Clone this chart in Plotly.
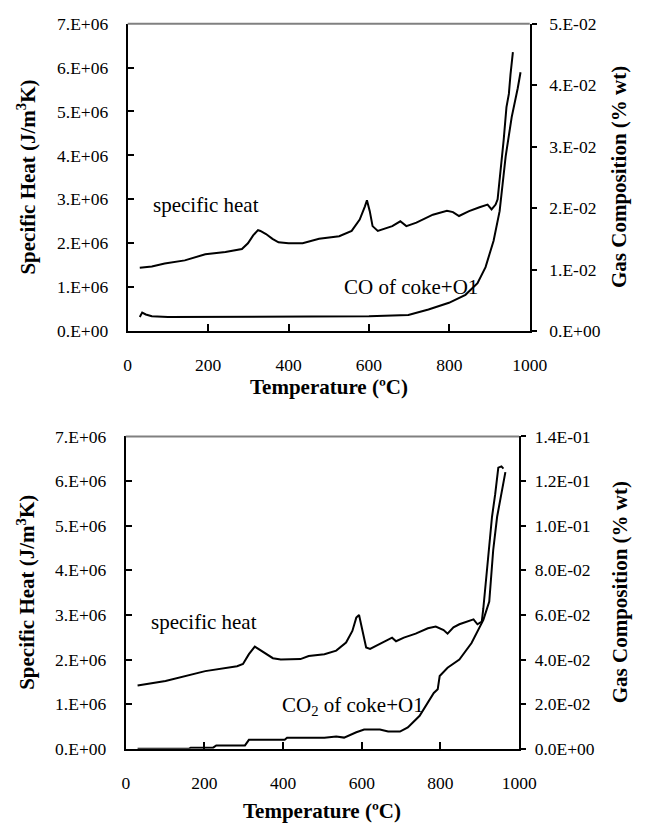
import plotly.graph_objects as go

# ---------------- data ----------------
# Top chart: specific heat (J/m3K) and CO (%wt)
t_cp_top = [30, 60, 92, 142, 193, 243, 284, 299, 312, 324, 330, 344, 360, 375, 400, 435, 476, 526,
            557, 577, 590, 595, 602, 609, 622, 658, 678, 693, 718, 759, 794, 809, 824, 849, 875,
            895, 905, 915, 920, 928, 935, 942, 948, 952, 958]
cp_top = [1.44e6, 1.47e6, 1.54e6, 1.61e6, 1.75e6, 1.80e6, 1.87e6, 2.00e6, 2.18e6, 2.30e6, 2.28e6,
          2.21e6, 2.10e6, 2.02e6, 2.00e6, 2.00e6, 2.10e6, 2.16e6, 2.28e6, 2.54e6, 2.84e6, 2.98e6,
          2.73e6, 2.39e6, 2.28e6, 2.39e6, 2.50e6, 2.39e6, 2.47e6, 2.65e6, 2.74e6, 2.71e6, 2.62e6,
          2.73e6, 2.82e6, 2.88e6, 2.77e6, 2.88e6, 3.00e6, 3.68e6, 4.35e6, 5.10e6, 5.40e6, 5.84e6, 6.35e6]

t_co = [30, 36, 45, 60, 100, 200, 300, 400, 500, 600, 698, 748, 799, 840, 870, 890, 910, 925,
        940, 955, 970, 977]
co = [0.0023, 0.0030, 0.0027, 0.0024, 0.0023, 0.0023, 0.0024, 0.0024, 0.0023, 0.0024, 0.0026,
      0.0035, 0.0046, 0.0059, 0.0078, 0.0104, 0.0147, 0.0195, 0.0284, 0.0348, 0.0395, 0.0421]

# Bottom chart: specific heat (J/m3K) and CO2 (%wt)
t_cp_bot = [30, 101, 202, 283, 298, 313, 328, 343, 374, 394, 444, 465, 505, 535, 560, 576, 586,
            593, 601, 611, 621, 646, 677, 687, 707, 737, 768, 788, 808, 818, 833, 848, 884, 894,
            905, 909, 919, 924, 931, 939, 944, 947, 955, 960]
cp_bot = [1.42e6, 1.52e6, 1.74e6, 1.85e6, 1.90e6, 2.12e6, 2.29e6, 2.20e6, 2.03e6, 2.00e6, 2.01e6,
          2.08e6, 2.12e6, 2.20e6, 2.38e6, 2.64e6, 2.94e6, 3.00e6, 2.64e6, 2.27e6, 2.24e6, 2.35e6,
          2.49e6, 2.41e6, 2.49e6, 2.58e6, 2.70e6, 2.74e6, 2.66e6, 2.58e6, 2.72e6, 2.79e6, 2.90e6,
          2.79e6, 2.85e6, 3.15e6, 4.10e6, 4.50e6, 5.20e6, 5.70e6, 6.10e6, 6.30e6, 6.33e6, 6.28e6]

t_co2 = [30, 160, 165, 222, 230, 303, 313, 404, 410, 505, 535, 555, 586, 606, 646, 667, 697, 717,
         747, 783, 793, 798, 818, 848, 879, 909, 924, 934, 944, 955, 965]
co2 = [0.0, 0.0, 0.0005, 0.0005, 0.0015, 0.0015, 0.0040, 0.0040, 0.0049, 0.0049, 0.0055, 0.0050,
       0.0074, 0.0086, 0.0086, 0.0077, 0.0077, 0.0096, 0.0148, 0.0250, 0.0267, 0.0326, 0.0363,
       0.0400, 0.0474, 0.0578, 0.0660, 0.0890, 0.1040, 0.1150, 0.1240]

x_ticks = [0, 200, 400, 600, 800, 1000]
left_ticks = [0, 1e6, 2e6, 3e6, 4e6, 5e6, 6e6, 7e6]
left_labels = ["0.E+00", "1.E+06", "2.E+06", "3.E+06", "4.E+06", "5.E+06", "6.E+06", "7.E+06"]
right_top_ticks = [0, 0.01, 0.02, 0.03, 0.04, 0.05]
right_top_labels = ["0.E+00", "1.E-02", "2.E-02", "3.E-02", "4.E-02", "5.E-02"]
right_bot_ticks = [0, 0.02, 0.04, 0.06, 0.08, 0.10, 0.12, 0.14]
right_bot_labels = ["0.0E+00", "2.0E-02", "4.0E-02", "6.0E-02", "8.0E-02", "1.0E-01", "1.2E-01", "1.4E-01"]

# ---------------- layout geometry ----------------
W, H = 657, 830
FONT = "Liberation Serif, Times New Roman, serif"
FS = 21      # text boxes and axis titles
TFS = 17.5   # tick labels


def px_x(p):
    return p / W


def px_y(p):
    return 1 - p / H


top_x = [px_x(128), px_x(544)]
top_y = [px_y(329), px_y(14)]
bot_x = [px_x(126), px_x(533)]
bot_y = [px_y(757), px_y(437)]

line = dict(color="black", width=2)

fig = go.Figure()
fig.add_trace(go.Scatter(x=t_cp_top, y=cp_top, mode="lines", line=line, xaxis="x", yaxis="y"))
fig.add_trace(go.Scatter(x=t_co, y=co, mode="lines", line=line, xaxis="x", yaxis="y2"))
fig.add_trace(go.Scatter(x=t_cp_bot, y=cp_bot, mode="lines", line=line, xaxis="x2", yaxis="y3"))
fig.add_trace(go.Scatter(x=t_co2, y=co2, mode="lines", line=line, xaxis="x2", yaxis="y4"))

tickfont = dict(family=FONT, size=TFS, color="black")
xcommon = dict(range=[0, 1000], tickvals=x_ticks, ticks="inside", ticklen=7, tickwidth=1.5,
               tickcolor="black", showline=True, linecolor="black", linewidth=2,
               showgrid=False, zeroline=False, tickfont=tickfont, ticklabelstandoff=17)
lcommon = dict(range=[0, 7e6], tickvals=left_ticks, ticktext=left_labels, ticks="inside",
               ticklen=6, tickwidth=1.5, tickcolor="black", showline=True, linecolor="black",
               linewidth=2, showgrid=False, zeroline=False, tickfont=tickfont, ticklabelstandoff=14)
rcommon = dict(side="right", ticks="outside", ticklen=5, tickwidth=1.5, tickcolor="black",
               showline=True, linecolor="black", linewidth=2, showgrid=False, zeroline=False,
               tickfont=tickfont)

fig.update_layout(
    width=W, height=H, margin=dict(l=0, r=0, t=0, b=0),
    paper_bgcolor="white", plot_bgcolor="white", showlegend=False,
    xaxis=dict(domain=top_x, anchor="y", **xcommon),
    yaxis=dict(domain=top_y, anchor="x", **lcommon),
    yaxis2=dict(overlaying="y", anchor="x", range=[0, 0.05], tickvals=right_top_ticks,
                ticktext=right_top_labels, ticklabelstandoff=9, **rcommon),
    xaxis2=dict(domain=bot_x, anchor="y3", **xcommon),
    yaxis3=dict(domain=bot_y, anchor="x2", **lcommon),
    yaxis4=dict(overlaying="y3", anchor="x2", range=[0, 0.14], tickvals=right_bot_ticks,
                ticktext=right_bot_labels, ticklabelstandoff=5, **rcommon),
)

# grey top border of each plot area
for xd, yd in [(top_x, top_y), (bot_x, bot_y)]:
    fig.add_shape(type="line", xref="paper", yref="paper", x0=xd[0], x1=xd[1], y0=yd[1], y1=yd[1],
                  line=dict(color="#808080", width=2))

textfont = dict(family=FONT, size=FS, color="black")
boldfont = dict(family=FONT, size=FS, color="black", weight="bold")

ann = []
# in-plot labels
ann.append(dict(x=58, y=2.87e6, xref="x", yref="y", text="specific heat", showarrow=False,
                xanchor="left", yanchor="middle", font=textfont))
ann.append(dict(x=534, y=1.0e6, xref="x", yref="y", text="CO of coke+O1", showarrow=False,
                xanchor="left", yanchor="middle", font=textfont))
ann.append(dict(x=59, y=2.84e6, xref="x2", yref="y3", text="specific heat", showarrow=False,
                xanchor="left", yanchor="middle", font=textfont))
ann.append(dict(x=392, y=0.96e6, xref="x2", yref="y3", text="CO<sub>2</sub> of coke+O1",
                showarrow=False, xanchor="left", yanchor="middle", font=textfont))

# axis titles
for (xd, yd, ty) in [(top_x, top_y, 386), (bot_x, bot_y, 821)]:
    ann.append(dict(x=(xd[0] + xd[1]) / 2, y=px_y(ty), xref="paper", yref="paper",
                    text="<b>Temperature (ºC)</b>", showarrow=False, xanchor="center",
                    yanchor="middle", font=boldfont))
    ann.append(dict(x=px_x(23), y=(yd[0] + yd[1]) / 2, xref="paper", yref="paper",
                    text="<b>Specific Heat (J/m<sup>3</sup>K)</b>", showarrow=False,
                    textangle=-90, xanchor="center", yanchor="middle", font=boldfont))
    ann.append(dict(x=px_x(637), y=(yd[0] + yd[1]) / 2, xref="paper", yref="paper",
                    text="<b>Gas Composition (% wt)</b>", showarrow=False,
                    textangle=-90, xanchor="center", yanchor="middle", font=boldfont))

fig.update_layout(annotations=ann)
fig.write_html("out.html")
